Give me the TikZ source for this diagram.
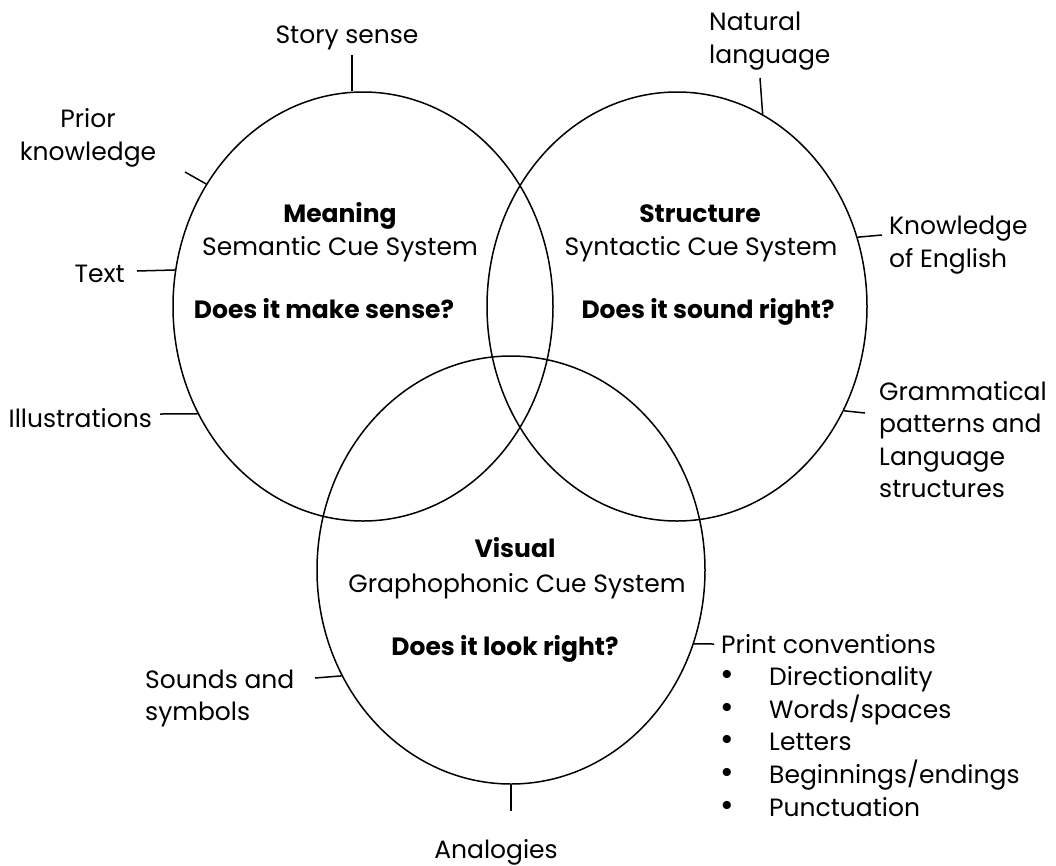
\documentclass[tikz,border=0pt]{standalone}
\usepackage{fontspec}
\setmainfont{Poppins}
\usetikzlibrary{shapes.geometric, positioning}
\tikzset{
  venn/.style={ellipse, draw, line width=1.5pt, minimum width=380pt, minimum height=429pt, inner sep=0pt},
  lbl/.style={inner sep=0pt, font=\fontsize{25}{32.6}\selectfont},
  head/.style={lbl, font=\fontsize{25}{32.6}\selectfont\bfseries},
  tick/.style={line width=1.5pt}
}

\begin{document}
\begin{tikzpicture}[x=1pt,y=-1pt]
	\useasboundingbox (0,0) rectangle (1056,865);
	% the three cue systems
	\node[venn] (mean) at (363,306.5) {};
	\node[venn] (synt) at (677,306.5) {};
	\node[venn, minimum width=388pt, minimum height=428pt] (vis) at (511,570) {};

	% texts inside the ellipses
	\node[head, anchor=base] (meanH) at (340,222) {Meaning};
	\node[lbl, anchor=base] (meanS) at (340,255) {Semantic Cue System};
	\node[head, anchor=base] (meanQ) at (324,318) {Does it make sense?};
	\node[head, anchor=base] (syntH) at (700,222) {Structure};
	\node[lbl, anchor=base] (syntS) at (701,255) {Syntactic Cue System};
	\node[head, anchor=base] (syntQ) at (708,318) {Does it sound right?};
	\node[head, anchor=base] (visH) at (515,557) {Visual};
	\node[lbl, anchor=base] (visS) at (517,592) {Graphophonic Cue System};
	\node[head, anchor=base] (visQ) at (505,655) {Does it look right?};

	% labels round the meaning ellipse
	\node[lbl, anchor=base] (story) at (347,43) {Story sense};
	\node[lbl, anchor=base, align=center] (prior) at (88,160) {Prior\\knowledge};
	\node[lbl, anchor=base east] (text) at (125,282) {Text};
	\node[lbl, anchor=base east] (illus) at (152,427) {Illustrations};
	\coordinate (storyE) at (352,55);
	\coordinate (priorE) at (185,172);
	\coordinate (textE) at (137,271);
	\coordinate (illusE) at (160,414);
	\draw[tick] (storyE) -- (storyE |- mean.north);
	\draw[tick] (mean.142) -- (priorE);
	\draw[tick] (mean.169) -- (textE);
	\draw[tick] (mean.213) -- (illusE);

	% labels round the structure ellipse
	\node[lbl, anchor=base west, align=left] (natural) at (709,63) {Natural\\language};
	\node[lbl, anchor=base west, align=left] (english) at (889,267) {Knowledge\\of English};
	\node[lbl, anchor=base west, align=left] (gramm) at (879,497.8) {Grammatical\\patterns and\\Language\\structures};
	\coordinate (naturalE) at (760,78);
	\coordinate (englishE) at (882,235);
	\coordinate (grammE) at (865,413);
	\draw[tick] (synt.66.6) -- (naturalE);
	\draw[tick] (synt.21.8) -- (englishE);
	\draw[tick] (synt.-32.9) -- (grammE);

	% labels round the visual ellipse
	\node[lbl, anchor=base west, align=left] (sounds) at (145,720.6) {Sounds and\\symbols};
	\node[lbl, anchor=base west] (print) at (721,653) {Print conventions};
	\foreach \entry [count=\i] in {Directionality,Words/spaces,Letters,Beginnings/endings,Punctuation} {
		\node[lbl, anchor=base, font=\fontsize{33}{33}\selectfont] (pcb\i) at (727,{653+32.6*\i}) {\textbullet};
		\node[lbl, anchor=base west] (pc\i) at (769,{653+32.6*\i}) {\entry};
	}
	\node[lbl, anchor=base] (analog) at (496,858) {Analogies};
	\coordinate (soundsE) at (315,678);
	\coordinate (printE) at (714,644);
	\coordinate (analogE) at (511,811);
	\draw[tick] (vis.212.8) -- (soundsE);
	\draw[tick] (vis.-22.1) -- (printE);
	\draw[tick] (analogE) -- (analogE |- vis.south);
\end{tikzpicture}
\end{document}
